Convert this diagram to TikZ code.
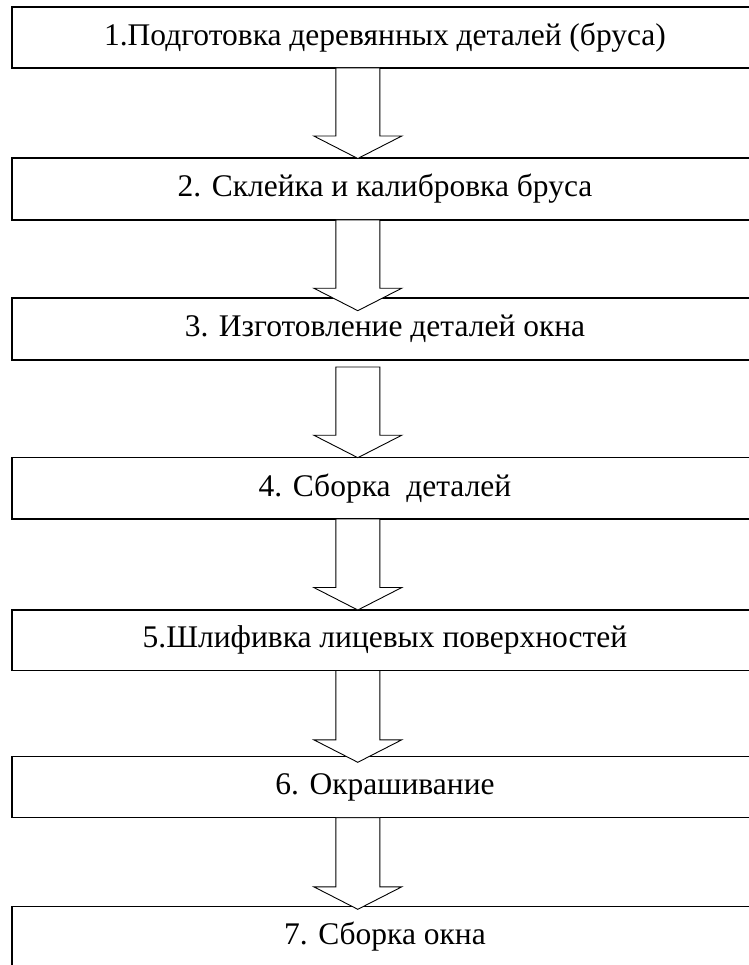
\documentclass[tikz,border=0pt]{standalone}
\usepackage{fontspec}
\setmainfont{Liberation Serif}
\usetikzlibrary{calc}
\tikzset{
  stepbox/.style={draw=black, line width=1.3pt, minimum width=746pt, minimum height=#1,
    inner sep=0pt, outer sep=0pt, anchor=north west, fill=white,
    font=\fontsize{31.5}{34}\selectfont},
  blockarrow/.style={draw=black, line width=0.9pt, fill=white, line join=miter}
}
\newcommand\blockarr[4]{%
  \coordinate (s) at ($(#1.south -| ax)+(0,#2)$);
  \coordinate (e) at ($(#3.north -| ax)+(0,#4)$);
  \draw[blockarrow] ($(s)+(-22,0)$) -- ($(e)+(-22,-22.5)$) -- ($(e)+(-44,-22.5)$) -- (e)
    -- ($(e)+(44,-22.5)$) -- ($(e)+(22,-22.5)$) -- ($(s)+(22,0)$) -- cycle;}
\begin{document}
\begin{tikzpicture}[x=1pt,y=-1pt]
\useasboundingbox (0,0) rectangle (748,965);
\fill[white] (0,0) rectangle (748,965);
\coordinate (ax) at (357.8,0);
\node[stepbox=61pt] (b1) at (12,7) {1.Подготовка деревянных деталей (бруса)};
\node[stepbox=62pt] (b2) at (12,158) {2. Склейка и калибровка бруса};
\node[stepbox=62pt] (b3) at (12,298) {3. Изготовление деталей окна};
\node[stepbox=61.3pt] (b4) at (12,457.7) {4. Сборка~ деталей};
\node[stepbox=60.5pt] (b5) at (12,610) {5.Шлифивка лицевых поверхностей};
\node[stepbox=61pt] (b6) at (12,756.7) {6. Окрашивание};
\node[stepbox=61pt] (b7) at (12,906.5) {7. Сборка окна};
\blockarr{b1}{0}{b2}{0.5}
\blockarr{b2}{0}{b3}{12.7}
\blockarr{b3}{7}{b4}{0}
\blockarr{b4}{0}{b5}{0}
\blockarr{b5}{0}{b6}{5.6}
\blockarr{b6}{0}{b7}{2.8}
\end{tikzpicture}
\end{document}
